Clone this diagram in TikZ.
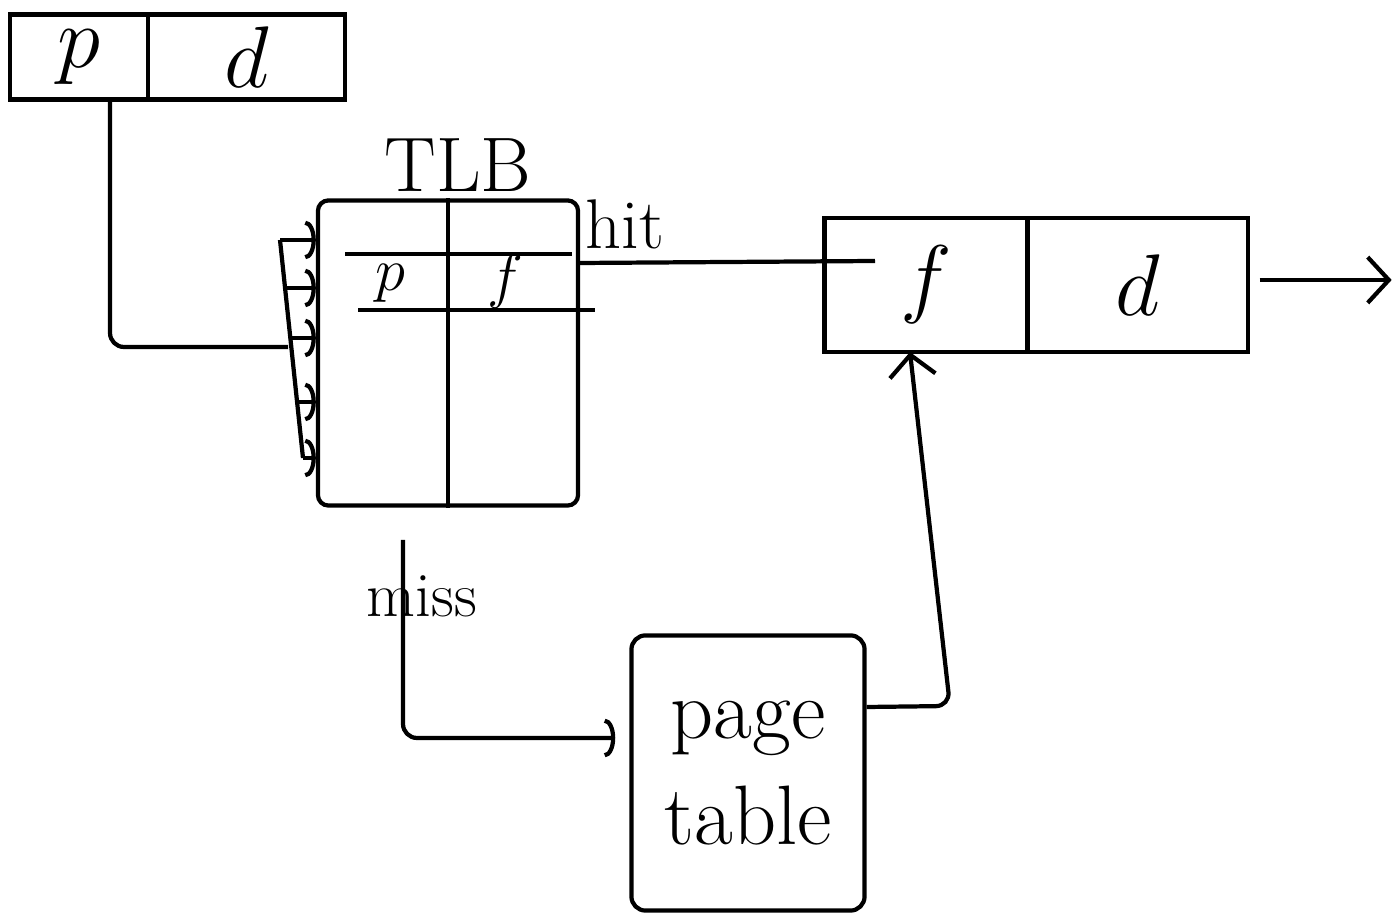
\documentclass[tikz,border=0pt]{standalone}
\usepackage{xcolor}
\usepackage{tikz}
\usetikzlibrary{positioning, arrows.meta, calc}
\definecolor{ink}{HTML}{000000}

\begin{document}
\begin{tikzpicture}[x=0.01cm, y=-0.01cm,
    line/.style={draw=ink, line width=1.2pt},
    cell/.style={line, minimum height=0.85cm, inner sep=0pt, outer sep=0pt,
                 font=\fontsize{26}{30}\selectfont},
    tag/.style={inner sep=1pt, font=\fontsize{20}{24}\selectfont},
    hook/.style={line, -{Arc Barb[length=3pt, width=11pt]}},
    barb/.style={line, -{Straight Barb[length=6pt, width=13pt]}}]
  \useasboundingbox (0,0) rectangle (1393,919);

  % logical address
  \node[cell, minimum width=1.38cm] (addrp) at (79,57) {$p$};
  \node[cell, minimum width=1.97cm, right=0pt of addrp] (addrd) {$d$};

  % TLB
  \node[line, rounded corners=3pt, minimum width=2.6cm, minimum height=3.05cm] (tlb) at (448,353) {};
  \node[tag, font=\fontsize{22}{26}\selectfont] (tlblabel) at (458,165) {TLB};
  \draw[line] (tlb.north) -- (tlb.south);
  \draw[line] (345,254) -- (572,254);
  \draw[line] (358,310) -- (595,310);
  \node[font=\fontsize{18}{22}\selectfont, inner sep=0pt] (tlbp) at (390,283) {$p$};
  \node[font=\fontsize{18}{22}\selectfont, inner sep=0pt] (tlbf) at (505,281) {$f$};

  % parallel compare into the TLB entries
  \coordinate (bustop) at (280,240);
  \coordinate (busbot) at (303,458);
  \coordinate (busjoin) at (288,347);
  \draw[line] (bustop) -- (busbot);
  \foreach \y in {240,288,338,402,458}
    \draw[hook] ({280+0.105*(\y-240)},\y) -- (tlb.west |- 0,\y);
  \draw[line, rounded corners=4pt] ($(addrp.south)+(31,0)$) |- (busjoin);

  % physical address
  \node[cell, minimum width=2.03cm, minimum height=1.34cm] (physf) at (926,285) {$f$};
  \node[cell, minimum width=2.2cm, minimum height=1.34cm, right=0pt of physf] (physd) {$d$};
  \draw[barb] ($(physd.east)+(12,-5)$) -- ++(132,0);

  % hit
  \coordinate (hitend) at (875,261);
  \draw[line] (tlb.east |- 0,263) -- (hitend);
  \node[tag] (hitlabel) at (625,224) {hit};

  % page table
  \node[line, rounded corners=4pt, minimum width=2.33cm, minimum height=2.75cm,
        align=center, font=\fontsize{24}{30}\selectfont] (ptab) at (748,773) {page\\table};

  % miss
  \coordinate (missstart) at (403,540);
  \node[tag, font=\fontsize{18}{22}\selectfont] (misslabel) at (422,596) {miss};
  \draw[hook, rounded corners=4pt, shorten >=4pt] (missstart) |- (ptab.west |- 0,738);

  % page table gives frame
  \coordinate (ptturn) at (950,706);
  \draw[barb, rounded corners=4pt] (ptab.east |- 0,707) -- (ptturn) -- (physf.south -| 910,0);
\end{tikzpicture}
\end{document}
